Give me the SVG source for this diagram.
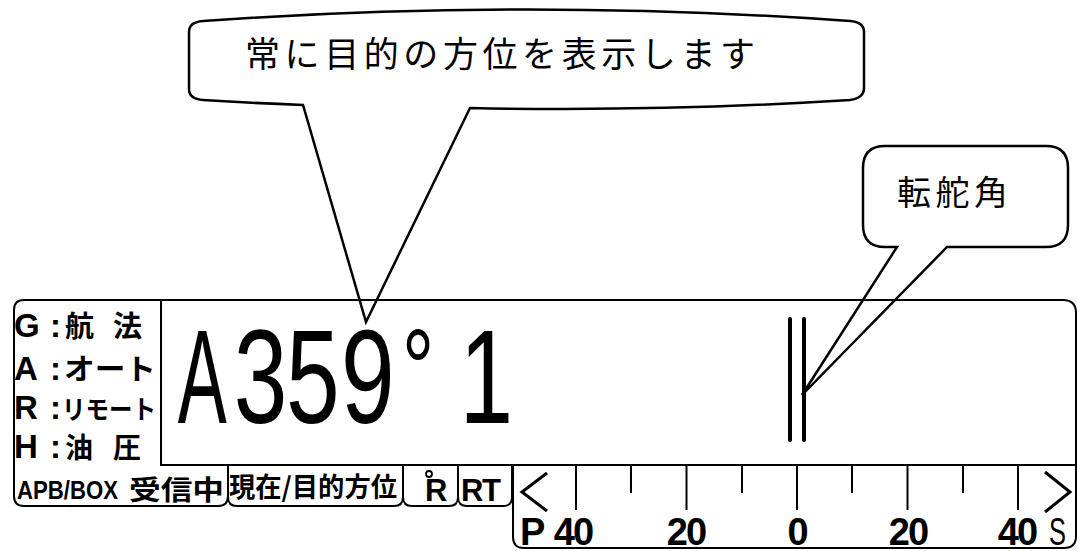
<svg xmlns="http://www.w3.org/2000/svg" width="1077" height="551" viewBox="0 0 1077 551">
<style>
.ln{fill:none;stroke:#000;stroke-width:2}
.bub{fill:none;stroke:#000;stroke-width:2.5;stroke-linejoin:miter}
.lat{font-family:"Liberation Sans",Arial,"Noto Sans CJK JP",sans-serif;font-weight:bold;fill:#000}
.cjk{font-family:"Noto Sans CJK JP","Noto Sans CJK SC",sans-serif;font-weight:bold;fill:#000}
.cjkl{font-family:"Noto Sans CJK JP","Noto Sans CJK SC",sans-serif;font-weight:normal;fill:#000}
.tick{stroke:#000;stroke-width:2}
.num{font-family:"Liberation Sans",Arial,sans-serif;font-weight:bold;font-size:38px;letter-spacing:-2px;text-anchor:middle}
</style>
<rect width="1077" height="551" fill="#fff"/>

<g id="display-frame">
  <path class="ln" d="M14,310 Q14,300 24,300 H1063 Q1076,300 1076,313 V536 Q1076,548 1064,548 H524 Q513,548 513,537 V465"/>
  <path class="ln" d="M14,310 V496 Q14,506 24,506 H218 Q228,506 228,496 V465"/>
  <path class="ln" d="M161,300 V465 H1076"/>
</g>

<g id="mode-labels">
  <text class="lat" font-size="33" y="337"><tspan x="14">G</tspan> <tspan x="50">:</tspan><tspan class="cjk" font-size="29" x="65">航 </tspan><tspan class="cjk" font-size="29" x="113">法</tspan></text>
  <text class="lat" font-size="33" y="380"><tspan x="14">A</tspan> <tspan x="50">:</tspan><tspan class="cjk" font-size="29" x="64" textLength="92" lengthAdjust="spacingAndGlyphs">オート</tspan></text>
  <text class="lat" font-size="33" y="419"><tspan x="14">R</tspan> <tspan x="50">:</tspan><tspan class="cjk" font-size="26" x="62" textLength="94" lengthAdjust="spacingAndGlyphs">リモート</tspan></text>
  <text class="lat" font-size="33" y="458"><tspan x="14">H</tspan> <tspan x="50">:</tspan><tspan class="cjk" font-size="28" x="65">油 </tspan><tspan class="cjk" font-size="28" x="113">圧</tspan></text>
</g>

<g id="heading-value">
  <text class="lat" font-size="134" y="423" transform="scale(0.72,1)" style="font-weight:normal"><tspan x="247" textLength="68" lengthAdjust="spacingAndGlyphs">A</tspan><tspan x="324.5">3</tspan><tspan x="397.2">5</tspan><tspan x="473.6">9</tspan><tspan x="558.3" font-size="112" dy="-16">°</tspan><tspan x="638.2" dy="16">1</tspan></text>
</g>

<g id="rudder-indicator">
  <line x1="790" y1="319" x2="790" y2="440" stroke="#000" stroke-width="4" stroke-linecap="round"/>
  <line x1="804" y1="319" x2="804" y2="440" stroke="#000" stroke-width="4" stroke-linecap="round"/>
</g>

<g id="tab-apb">
  <text class="lat" font-size="25" x="17" y="499" textLength="101" lengthAdjust="spacingAndGlyphs">APB/BOX</text>
  <text class="cjk" font-size="27" x="129" y="500" textLength="95" lengthAdjust="spacingAndGlyphs">受信中</text>
</g>
<g id="tab-current-target">
  <path class="ln" d="M228,465 V497 Q228,506 237,506 H394 Q403,506 403,497 V465"/>
  <text class="cjk" font-size="27" x="229" y="497" textLength="168" lengthAdjust="spacingAndGlyphs">現在/目的方位</text>
</g>
<g id="tab-r">
  <path class="ln" d="M403,465 V497 Q403,506 412,506 H449 Q458,506 458,497 V465"/>
  <text class="lat" font-size="31" x="425" y="501">R</text>
  <circle cx="429" cy="474" r="3" fill="#fff" stroke="#000" stroke-width="1.8"/>
</g>
<g id="tab-rt">
  <path class="ln" d="M458,465 V497 Q458,506 467,506 H503 Q512,506 512,497 V465"/>
  <text class="lat" font-size="31" x="461" y="501" letter-spacing="-1.5">RT</text>
</g>

<g id="rudder-scale">
  <polyline points="547,473 522,492 547,511" fill="none" stroke="#000" stroke-width="3"/>
  <polyline points="1045,472 1070,492 1045,512" fill="none" stroke="#000" stroke-width="3"/>
  <line class="tick" x1="576" y1="465" x2="576" y2="510"/>
  <line class="tick" x1="631" y1="465" x2="631" y2="493"/>
  <line class="tick" x1="686.5" y1="465" x2="686.5" y2="510"/>
  <line class="tick" x1="742" y1="465" x2="742" y2="493"/>
  <line class="tick" x1="797" y1="465" x2="797" y2="510"/>
  <line class="tick" x1="852" y1="465" x2="852" y2="493"/>
  <line class="tick" x1="907.5" y1="465" x2="907.5" y2="510"/>
  <line class="tick" x1="963" y1="465" x2="963" y2="493"/>
  <line class="tick" x1="1018" y1="465" x2="1018" y2="510"/>
  <text class="lat" font-size="38" x="520" y="545">P</text>
  <text class="num" x="573" y="545">40</text>
  <text class="num" x="686" y="545">20</text>
  <text class="num" x="797" y="545">0</text>
  <text class="num" x="908" y="545">20</text>
  <text class="num" x="1017" y="545">40</text>
  <text font-family="Liberation Sans,Arial,sans-serif" font-size="38" x="1049" y="545" textLength="17" lengthAdjust="spacingAndGlyphs">S</text>
</g>

<g id="callout-heading">
  <path class="bub" d="M189,32 Q189,22 203,21 Q526,-2 850,21 Q864,22 864,32 V88 Q864,98 850,100 Q660,112 470,108 L366,322 L303,105 Q250,103 203,100 Q189,99 189,89 Z"/>
  <text class="cjkl" font-size="35" x="245" y="67" textLength="510" lengthAdjust="spacing">常に目的の方位を表示します</text>
</g>

<g id="callout-rudder">
  <path class="bub" d="M885,146 H1046 Q1068,146 1068,168 V225 Q1068,247 1046,247 H947 L802,395 L897,247 H885 Q863,247 863,225 V168 Q863,146 885,146 Z"/>
  <text class="cjkl" font-size="34" x="897" y="205" textLength="111" lengthAdjust="spacing">転舵角</text>
</g>
</svg>
